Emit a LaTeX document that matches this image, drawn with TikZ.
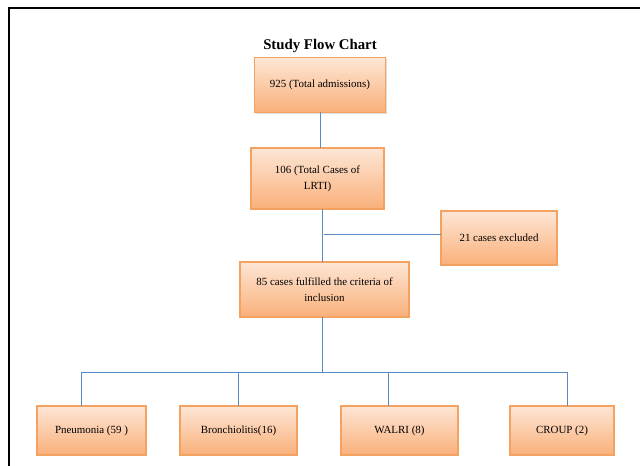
\documentclass[tikz,border=0pt]{standalone}
\usepackage{fontspec}
\setmainfont{Liberation Serif}
\usetikzlibrary{shadows}
\definecolor{boxline}{HTML}{F4A261}
\definecolor{boxtop}{HTML}{FDE6D5}
\definecolor{boxbot}{HTML}{FAB07A}
\definecolor{linkblue}{HTML}{5B8BC5}
\tikzset{
  flowbox/.style={draw=boxline, line width=0.8pt, top color=boxtop, bottom color=boxbot,
    inner sep=0pt, outer sep=0pt, align=center,
    font=\fontsize{8.2}{12}\selectfont,
    drop shadow={opacity=0.25, shadow xshift=0.8pt, shadow yshift=-0.8pt}},
  link/.style={draw=linkblue, line width=0.6pt}
}
\begin{document}
\begin{tikzpicture}[x=0.75pt,y=-0.75pt]
    \useasboundingbox (0,0) rectangle (640,466);
    \draw[line width=1.6pt] (8.7,466) -- (8.7,7.7) -- (640,7.7);
    \node (title) at (320,46) {\fontsize{11.1}{13}\selectfont\bfseries Study Flow Chart};
    \node[flowbox, minimum width=98.25pt, minimum height=41.25pt] (admit) at (320,85) {925 (Total admissions)};
    \node[flowbox, minimum width=99.75pt, minimum height=45.75pt] (lrti) at (317.5,178.5) {106 (Total Cases of\\LRTI)};
    \node[flowbox, minimum width=87pt, minimum height=40.5pt] (excl) at (499,238) {21 cases excluded};
    \node[flowbox, minimum width=126.75pt, minimum height=41.25pt] (incl) at (324.5,289.5) {85 cases fulfilled the criteria of\\inclusion};
    \node[flowbox, minimum width=81.75pt, minimum height=36.75pt] (pneu) at (91.5,430.5) {Pneumonia (59 )};
    \node[flowbox, minimum width=87.75pt, minimum height=36.75pt] (bron) at (238.5,430.5) {Bronchiolitis(16)};
    \node[flowbox, minimum width=87.75pt, minimum height=36.75pt] (walri) at (399.5,430.5) {WALRI (8)};
    \node[flowbox, minimum width=78pt, minimum height=36.75pt] (croup) at (562,430.5) {CROUP (2)};
    % connectors
    \coordinate (spine) at (322,234);
    \coordinate (hub) at (322,372);
    \coordinate (tapA) at (81,372);
    \coordinate (tapB) at (238,372);
    \coordinate (tapC) at (388,372);
    \coordinate (tapD) at (567,372);
    \draw[link] (admit.south) -- (admit.south |- lrti.north);
    \draw[link] (spine |- lrti.south) -- (spine |- incl.north);
    \draw[link] ([xshift=1.5pt]spine) -- (spine -| excl.west);
    \draw[link] (hub |- incl.south) -- (hub);
    \draw[link] (tapA) -- (tapD);
    \draw[link] (tapA) -- (tapA |- pneu.north);
    \draw[link] (tapB) -- (tapB |- bron.north);
    \draw[link] (tapC) -- (tapC |- walri.north);
    \draw[link] (tapD) -- (tapD |- croup.north);
\end{tikzpicture}
\end{document}
